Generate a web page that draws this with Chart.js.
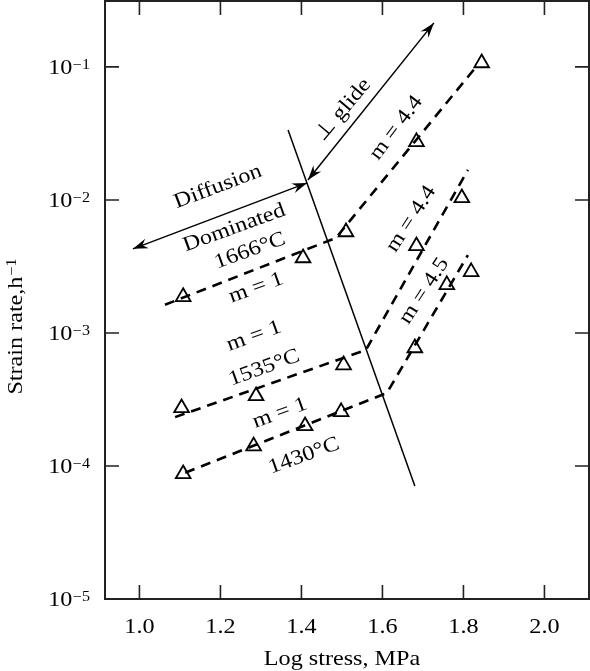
<!DOCTYPE html>
<html>
<head>
<meta charset="utf-8">
<script src="https://cdn.jsdelivr.net/npm/chart.js@4.4.1/dist/chart.umd.min.js"></script>
<style>
  html, body { margin: 0; padding: 0; background: #fff; }
  #wrap { width: 590px; height: 671px; }
</style>
</head>
<body>
<div id="wrap"><canvas id="creepChart"></canvas></div>
<script>
// axis ticks
const xTicks = [1.0, 1.2, 1.4, 1.6, 1.8, 2.0];
const yTickExps = [-5, -4, -3, -2, -1];

// measured points (log stress, strain rate h^-1)
const stress1666 = [1.108, 1.404, 1.510, 1.684, 1.845];
const rate1666 = [1.87e-3, 3.66e-3, 5.74e-3, 0.0273, 0.107];
const stress1535 = [1.104, 1.288, 1.504, 1.684, 1.796];
const rate1535 = [2.73e-4, 3.36e-4, 5.74e-4, 4.51e-3, 0.01035];
const stress1430 = [1.108, 1.282, 1.409, 1.498, 1.680, 1.759, 1.819];
const rate1430 = [8.71e-5, 1.41e-4, 2.00e-4, 2.55e-4, 7.71e-4, 2.30e-3, 2.88e-3];

// dashed fits: m = 1 branch then power-law branch
const fitStress1666 = [1.063, 1.485, 1.829];
const fitRate1666 = [1.63e-3, 5.18e-3, 0.0982];
const fitStress1535 = [1.088, 1.559, 1.811];
const fitRate1535 = [2.33e-4, 7.44e-4, 0.01683];
const fitStress1430 = [1.113, 1.611, 1.811];
const fitRate1430 = [8.9e-5, 3.54e-4, 3.85e-3];

// regime boundary and arrows
const boundaryStress = [1.367, 1.680];
const boundaryRate = [0.0336, 7.08e-5];
const diffusionStress = [0.984, 1.414];
const diffusionRate = [4.29e-3, 0.01343];
const glideStress = [1.416, 1.727];
const glideRate = [0.01412, 0.2143];

// text labels on the plot
const notes = [
  { text: 'Diffusion', stress: 1.194, rate: 0.01253, angle: -20.7 },
  { text: 'Dominated', stress: 1.234, rate: 6.15e-3, angle: -20 },
  { text: '1666°C', stress: 1.273, rate: 4.14e-3, angle: -20 },
  { text: 'm = 1', stress: 1.288, rate: 2.18e-3, angle: -20 },
  { text: '⊥ glide', stress: 1.503, rate: 0.0475, angle: -50 },
  { text: 'm = 4.4', stress: 1.634, rate: 0.0348, angle: -53 },
  { text: 'm = 4.4', stress: 1.671, rate: 7.19e-3, angle: -57 },
  { text: 'm = 4.5', stress: 1.703, rate: 2.07e-3, angle: -57 },
  { text: 'm = 1', stress: 1.283, rate: 9.48e-4, angle: -20 },
  { text: '1535°C', stress: 1.308, rate: 5.46e-4, angle: -20 },
  { text: 'm = 1', stress: 1.347, rate: 2.50e-4, angle: -20 },
  { text: '1430°C', stress: 1.406, rate: 1.19e-4, angle: -20 }
];

const FONT = '"Liberation Serif", "Times New Roman", serif';
const pairs = (xs, ys) => xs.map((x, i) => ({ x: x, y: ys[i] }));

function dashed(xs, ys) {
  return { data: pairs(xs, ys), showLine: true, borderColor: '#000', borderWidth: 2.6,
           borderDash: [10, 7], pointRadius: 0, fill: false };
}
function solid(xs, ys) {
  return { data: pairs(xs, ys), showLine: true, borderColor: '#000', borderWidth: 1.5,
           pointRadius: 0, fill: false };
}
function triangles(xs, ys) {
  return { data: pairs(xs, ys), showLine: false, pointStyle: 'triangle', pointRadius: 8.5,
           pointBorderWidth: 1.8, pointBorderColor: '#000', pointBackgroundColor: 'rgba(0,0,0,0)' };
}

// text stretched a bit along its baseline, like the original typesetting
function text(ctx, s, x, y, angle, size, align, baseline) {
  ctx.save();
  ctx.translate(x, y);
  ctx.rotate(angle * Math.PI / 180);
  ctx.scale(1.15, 1);
  ctx.font = size + 'px ' + FONT;
  ctx.textAlign = align;
  ctx.textBaseline = baseline;
  ctx.fillStyle = '#000';
  ctx.fillText(s, 0, 0);
  ctx.restore();
}
function textWidth(ctx, s, size) {
  ctx.save();
  ctx.font = size + 'px ' + FONT;
  const w = ctx.measureText(s).width * 1.15;
  ctx.restore();
  return w;
}

function arrowHead(ctx, tip, from) {
  const a = Math.atan2(tip.y - from.y, tip.x - from.x);
  ctx.save();
  ctx.translate(tip.x, tip.y);
  ctx.rotate(a);
  ctx.beginPath();
  ctx.moveTo(0, 0);
  ctx.lineTo(-15, -5);
  ctx.lineTo(-10, 0);
  ctx.lineTo(-15, 5);
  ctx.closePath();
  ctx.fillStyle = '#000';
  ctx.fill();
  ctx.restore();
}

const decorations = {
  id: 'decorations',
  afterDraw(chart) {
    const ctx = chart.ctx;
    const ca = chart.chartArea;
    const xs = chart.scales.x, ys = chart.scales.y;

    // frame
    ctx.save();
    ctx.strokeStyle = '#222';
    ctx.lineWidth = 2;
    ctx.strokeRect(ca.left, ca.top, ca.right - ca.left, ca.bottom - ca.top);

    // inward tick marks on all four sides
    ctx.lineWidth = 1.6;
    ctx.beginPath();
    xTicks.forEach(v => {
      const px = xs.getPixelForValue(v);
      ctx.moveTo(px, ca.bottom); ctx.lineTo(px, ca.bottom - 14);
      ctx.moveTo(px, ca.top); ctx.lineTo(px, ca.top + 14);
    });
    yTickExps.forEach(e => {
      const py = ys.getPixelForValue(Math.pow(10, e));
      ctx.moveTo(ca.left, py); ctx.lineTo(ca.left + 14, py);
      ctx.moveTo(ca.right, py); ctx.lineTo(ca.right - 14, py);
    });
    ctx.stroke();
    ctx.restore();

    // x tick labels
    xTicks.forEach(v => {
      text(ctx, v.toFixed(1), xs.getPixelForValue(v), 633, 0, 21, 'center', 'alphabetic');
    });

    // y tick labels 10^n
    yTickExps.forEach(e => {
      const py = ys.getPixelForValue(Math.pow(10, e));
      const sup = '\u2212' + Math.abs(e);
      const wSup = textWidth(ctx, sup, 14);
      const right = ca.left - 15;
      text(ctx, sup, right - wSup, py + 2, 0, 14, 'left', 'alphabetic');
      text(ctx, '10', right - wSup - 0.5, py + 7, 0, 21, 'right', 'alphabetic');
    });

    // axis titles
    text(ctx, 'Log stress, MPa', 342, 665, 0, 21, 'center', 'alphabetic');
    const main = 'Strain rate,h', sup = '\u22121';
    const w1 = textWidth(ctx, main, 21), w2 = textWidth(ctx, sup, 14);
    ctx.save();
    ctx.translate(22, 327);
    ctx.rotate(-Math.PI / 2);
    text(ctx, main, -(w1 + w2) / 2, 0, 0, 21, 'left', 'alphabetic');
    text(ctx, sup, -(w1 + w2) / 2 + w1 + 1, -6, 0, 14, 'left', 'alphabetic');
    ctx.restore();

    // annotations
    notes.forEach(n => {
      text(ctx, n.text, xs.getPixelForValue(n.stress), ys.getPixelForValue(n.rate),
           n.angle, 21, 'center', 'middle');
    });

    // double-headed arrows
    [4, 5].forEach(i => {
      const pts = chart.getDatasetMeta(i).data;
      arrowHead(ctx, pts[0], pts[1]);
      arrowHead(ctx, pts[1], pts[0]);
    });
  }
};

new Chart(document.getElementById('creepChart'), {
  type: 'scatter',
  data: {
    datasets: [
      dashed(fitStress1666, fitRate1666),
      dashed(fitStress1535, fitRate1535),
      dashed(fitStress1430, fitRate1430),
      solid(boundaryStress, boundaryRate),
      solid(diffusionStress, diffusionRate),
      solid(glideStress, glideRate),
      triangles(stress1666, rate1666),
      triangles(stress1535, rate1535),
      triangles(stress1430, rate1430)
    ]
  },
  options: {
    responsive: true,
    maintainAspectRatio: false,
    animation: false,
    layout: { autoPadding: false, padding: { top: 1, right: 1, left: 0, bottom: 0 } },
    plugins: { legend: { display: false }, tooltip: { enabled: false } },
    scales: {
      x: {
        type: 'linear', min: 0.915, max: 2.11,
        grid: { display: false }, border: { display: false },
        ticks: { display: false },
        afterFit(s) { s.height = 72; }
      },
      y: {
        type: 'logarithmic', min: 1e-5, max: 0.313,
        grid: { display: false }, border: { display: false },
        ticks: { display: false },
        afterFit(s) { s.width = 105; }
      }
    }
  },
  plugins: [decorations]
});
</script>
</body>
</html>
